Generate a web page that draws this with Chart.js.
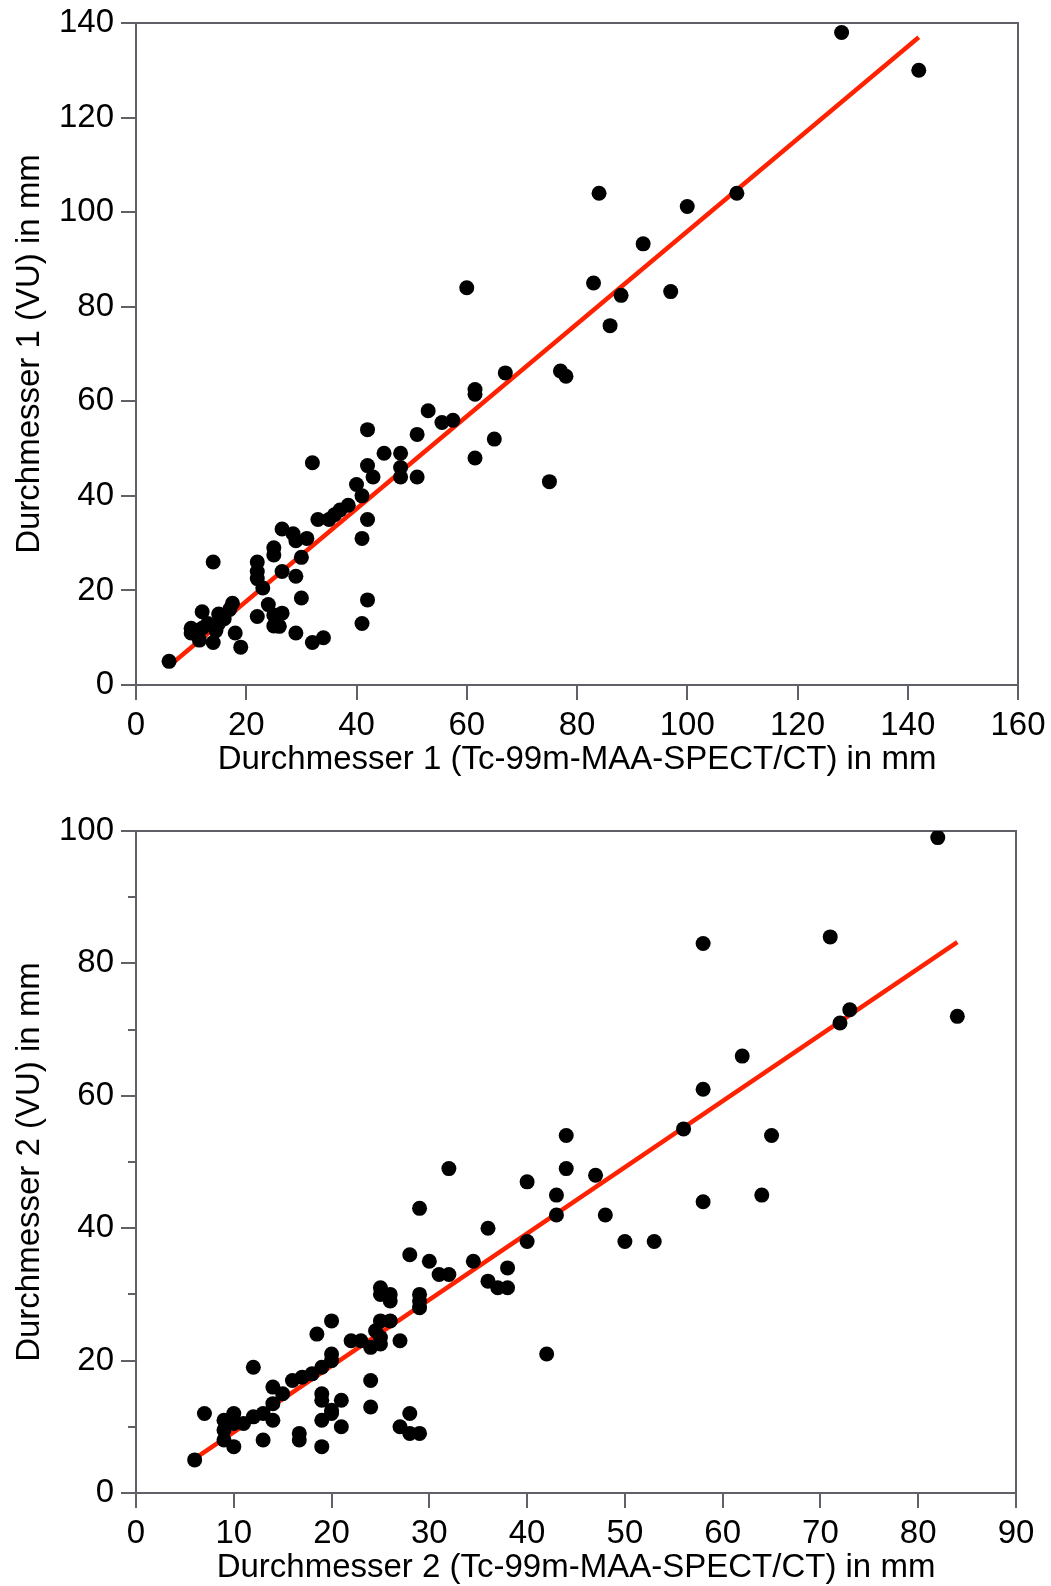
<!DOCTYPE html>
<html>
<head>
<meta charset="utf-8">
<script src="https://cdn.jsdelivr.net/npm/chart.js@4.4.1/dist/chart.umd.min.js"></script>
<style>
  html, body { margin: 0; padding: 0; background: #fff; }
  .box { position: absolute; left: 0; width: 1051px; }
  #top { top: 0; height: 790px; }
  #bottom { top: 790px; height: 796px; }
</style>
</head>
<body>
<div class="box" id="top"><canvas id="chart1"></canvas></div>
<div class="box" id="bottom"><canvas id="chart2"></canvas></div>
<script>
// Durchmesser 1
const d1x = [6, 10, 11, 12, 11.5, 14, 13, 15, 15, 14.5, 14, 17.5, 17, 18, 19, 12, 16, 10,
  22, 24, 25, 26.5, 25, 26, 29, 30, 32, 34,
  22, 22, 22, 23, 25, 25, 26.5, 29, 26.5, 28.5, 29, 31, 30,
  32, 33, 35, 36, 37, 38.5, 40, 41, 42, 41, 42, 41,
  42, 42, 43, 45, 48, 48, 48, 51, 51, 53, 55.5, 57.5,
  60, 61.5, 61.5, 61.5, 65, 67, 75, 77, 78, 83, 84, 86, 88, 92, 97, 100, 109, 128, 142];
const d1y = [5, 12, 11.5, 15.5, 9.5, 9, 13, 15, 13, 11.5, 26, 17.3, 16, 11, 8, 12, 14, 11,
  14.5, 17, 14.8, 15.2, 12.5, 12.4, 11, 18.4, 9, 10,
  26, 24, 22.5, 20.5, 29, 27.5, 24, 23, 33, 32, 30.5, 31, 27,
  47, 35, 35, 36, 37, 38, 42.4, 40, 35, 31, 18, 13,
  54, 46.4, 44, 49, 49, 46, 44, 44, 53, 58, 55.5, 56,
  84, 62.5, 61.5, 48, 52, 66, 43, 66.4, 65.3, 85, 104, 76, 82.4, 93.3, 83.2, 101.2, 104, 138, 130];
const fit1x = [6, 142];
const fit1y = [4, 137];

// Durchmesser 2
const d2x = [6, 7, 9, 9, 9, 10, 10, 10, 11, 12, 12, 13, 13, 14, 14, 14, 15, 16, 17, 18, 19,
  16.7, 16.7, 19, 19, 19, 19, 20, 20, 21, 21, 18.5, 20, 20, 20,
  22, 23, 24, 24.5, 25, 25, 24, 24, 25, 26, 25, 25, 26, 26, 27, 27, 28, 28, 29,
  28, 29, 29, 29, 29, 30, 31, 32, 32, 34.5, 36, 36, 37, 38, 38,
  40, 40, 42, 43, 43, 44, 44, 47, 48, 50, 53, 56, 58, 58, 58, 62, 64, 65, 71, 72, 73, 82, 84];
const d2y = [5, 12, 11, 9.5, 8, 12, 7, 10.5, 10.5, 11.5, 19, 8, 12, 11, 16, 13.5, 15, 17, 17.5, 18, 19,
  9, 8, 7, 11, 15, 14, 12.5, 12, 10, 14, 24, 26, 21, 20,
  23, 23, 22, 24.5, 23.5, 22.5, 17, 13, 26, 26, 31, 30, 30, 29, 23, 10, 12, 9, 9,
  36, 43, 30, 29, 28, 35, 33, 33, 49, 35, 40, 32, 31, 31, 34,
  47, 38, 21, 45, 42, 54, 49, 48, 42, 38, 38, 55, 61, 44, 83, 66, 45, 54, 84, 71, 73, 99, 72];
const fit2x = [6, 84];
const fit2y = [5.2, 83.2];

const axisColor = '#606068';
const fontFamily = '"Liberation Sans", Arial, sans-serif';

function points(xs, ys) {
  return xs.map((x, i) => ({ x: x, y: ys[i] }));
}

// box round the plot area (top and right edges)
const frame = {
  id: 'frame',
  beforeDatasetsDraw(chart) {
    const a = chart.chartArea;
    const c = chart.ctx;
    c.save();
    c.strokeStyle = axisColor;
    c.lineWidth = 2;
    c.beginPath();
    c.moveTo(a.left, a.top);
    c.lineTo(a.right, a.top);
    c.lineTo(a.right, a.bottom);
    c.stroke();
    c.restore();
  }
};

function makeChart(id, opts) {
  const scales = {
    x: {
      type: 'linear',
      min: 0,
      max: opts.xMax,
      ticks: { stepSize: opts.xStep, padding: 6, color: '#000', font: { family: fontFamily, size: 33 } },
      grid: { drawOnChartArea: false, tickLength: 15, color: axisColor, lineWidth: 2 },
      border: { display: true, color: axisColor, width: 2 },
      title: {
        display: true,
        text: opts.xTitle,
        color: '#000',
        font: { family: fontFamily, size: 33, lineHeight: 1.1 },
        padding: { top: 0, bottom: opts.xTitlePad }
      },
      afterFit: s => {
        s.height = opts.xHeight;
        s.paddingLeft = 0;
        s.paddingRight = 0;
      }
    },
    y: {
      type: 'linear',
      min: 0,
      max: opts.yMax,
      weight: 1,
      ticks: { stepSize: 20, padding: 7, color: '#000', font: { family: fontFamily, size: 33 } },
      grid: { drawOnChartArea: false, tickLength: 15, color: axisColor, lineWidth: 2 },
      border: { display: true, color: axisColor, width: 2 },
      title: {
        display: true,
        text: opts.yTitle,
        color: '#000',
        font: { family: fontFamily, size: 33, lineHeight: 1.1 },
        padding: { top: 12, bottom: 0 }
      },
      afterFit: s => {
        s.width = 136;
        s.paddingTop = 0;
        s.paddingBottom = 0;
      }
    }
  };
  if (opts.minorY) {
    scales.ym = {
      type: 'linear',
      position: 'left',
      min: 0,
      max: opts.yMax,
      weight: 0,
      ticks: { stepSize: 10, display: false },
      grid: { drawOnChartArea: false, tickLength: 8, color: axisColor, lineWidth: 2 },
      border: { display: false },
      afterFit: s => {
        s.width = 0;
        s.paddingTop = 0;
        s.paddingBottom = 0;
      }
    };
  }

  return new Chart(document.getElementById(id), {
    type: 'scatter',
    data: {
      datasets: [{
        data: points(opts.xs, opts.ys),
        backgroundColor: '#000',
        borderWidth: 0,
        pointRadius: 7.5,
        pointHoverRadius: 7.5
      }, {
        type: 'line',
        data: points(opts.fitX, opts.fitY),
        borderColor: '#ff2200',
        borderWidth: 4.5,
        pointRadius: 0,
        fill: false
      }]
    },
    options: {
      responsive: true,
      maintainAspectRatio: false,
      animation: false,
      events: [],
      layout: { padding: { top: opts.padTop, right: opts.padRight, left: 0, bottom: 0 } },
      scales: scales,
      plugins: {
        legend: { display: false },
        tooltip: { enabled: false }
      }
    },
    plugins: [frame]
  });
}

makeChart('chart1', {
  xs: d1x, ys: d1y, fitX: fit1x, fitY: fit1y,
  xMax: 160, xStep: 20, yMax: 140,
  xTitle: 'Durchmesser 1 (Tc-99m-MAA-SPECT/CT) in mm',
  yTitle: 'Durchmesser 1 (VU) in mm',
  xHeight: 105, xTitlePad: 12,
  padTop: 23, padRight: 33,
  minorY: false
});

makeChart('chart2', {
  xs: d2x, ys: d2y, fitX: fit2x, fitY: fit2y,
  xMax: 90, xStep: 10, yMax: 100,
  xTitle: 'Durchmesser 2 (Tc-99m-MAA-SPECT/CT) in mm',
  yTitle: 'Durchmesser 2 (VU) in mm',
  xHeight: 93, xTitlePad: 0,
  padTop: 41, padRight: 35,
  minorY: true
});
</script>
</body>
</html>
